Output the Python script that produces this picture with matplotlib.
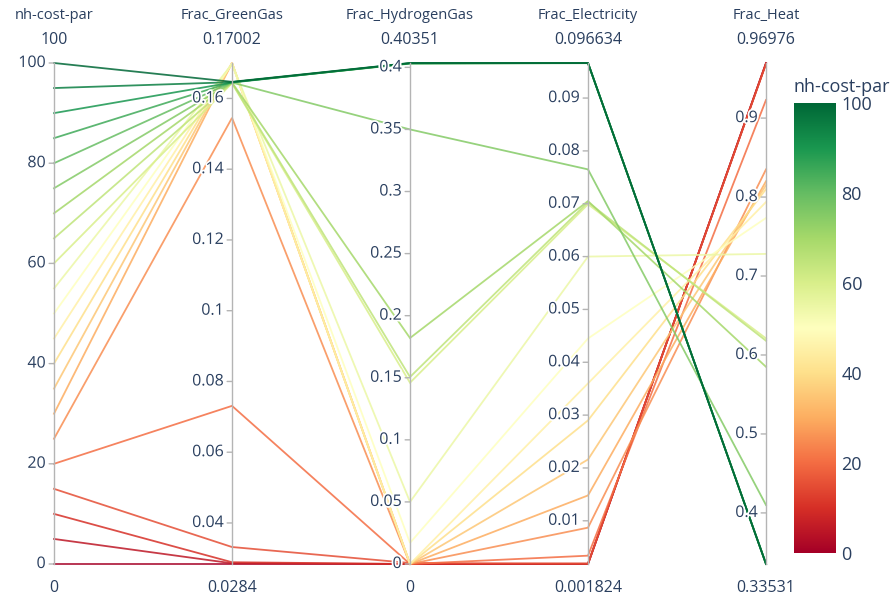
import matplotlib
matplotlib.use("Agg")
import matplotlib.pyplot as plt
import matplotlib.patheffects as pe
import numpy as np

# one row per run, columns are the parallel axes
nh_cost_par = [0, 5, 10, 15, 20, 25, 30, 35, 40, 45, 50,
               55, 60, 65, 70, 75, 80, 85, 90, 95, 100]
frac_green_gas = [0.0284, 0.0286, 0.0289, 0.0332, 0.0731, 0.1545, 0.17002,
                  0.17002, 0.17002, 0.1699, 0.1698, 0.1697, 0.1643, 0.1644,
                  0.1645, 0.1645, 0.1646, 0.1646, 0.1645, 0.1646, 0.1647]
frac_hydrogen_gas = [0.0, 0.0, 0.0, 0.0008, 0.0, 0.0, 0.0, 0.0, 0.0, 0.0,
                     0.017, 0.05, 0.146, 0.1506, 0.182, 0.35,
                     0.4030, 0.4032, 0.4033, 0.4034, 0.40351]
frac_electricity = [0.001824, 0.001824, 0.0019, 0.0019, 0.0034, 0.0087,
                    0.0148, 0.0216, 0.029, 0.036, 0.0445, 0.06, 0.0699,
                    0.0703, 0.0705, 0.0765, 0.0966, 0.09663, 0.096634,
                    0.09663, 0.09662]
frac_heat = [0.96976, 0.9695, 0.969, 0.9685, 0.9229, 0.835, 0.82, 0.815,
             0.81, 0.7937, 0.7735, 0.728, 0.621, 0.618, 0.585, 0.41,
             0.3356, 0.3355, 0.3354, 0.33531, 0.33531]

axis_titles = ["nh-cost-par", "Frac_GreenGas", "Frac_HydrogenGas",
               "Frac_Electricity", "Frac_Heat"]
axis_ticks = [
    [0, 20, 40, 60, 80, 100],
    [0.04, 0.06, 0.08, 0.1, 0.12, 0.14, 0.16],
    [0, 0.05, 0.1, 0.15, 0.2, 0.25, 0.3, 0.35, 0.4],
    [0.01, 0.02, 0.03, 0.04, 0.05, 0.06, 0.07, 0.08, 0.09],
    [0.4, 0.5, 0.6, 0.7, 0.8, 0.9],
]
cbar_ticks = [0, 20, 40, 60, 80, 100]

TEXT = "#2a3f5f"
plt.rcParams["font.family"] = ["Open Sans", "DejaVu Sans"]

columns = [nh_cost_par, frac_green_gas, frac_hydrogen_gas,
           frac_electricity, frac_heat]
data = np.array(columns, dtype=float)
lo = data.min(axis=1)
hi = data.max(axis=1)
norm = (data - lo[:, None]) / (hi - lo)[:, None]

fig = plt.figure(figsize=(8.95, 5.97), dpi=100)
ax = fig.add_axes([54 / 895, 1 - 564 / 597, 712 / 895, 501 / 597])
ax.set_xlim(0, 4)
ax.set_ylim(0, 1)
ax.axis("off")

cmap = plt.cm.RdYlGn
cnorm = plt.Normalize(0, 100)
xs = np.arange(len(columns))
for j in range(data.shape[1]):
    ax.plot(xs, norm[:, j], color=cmap(cnorm(nh_cost_par[j])), lw=1.3,
            alpha=0.85, clip_on=False, zorder=2, solid_joinstyle="miter")

halo = [pe.withStroke(linewidth=2.5, foreground="white")]
for i, title in enumerate(axis_titles):
    ax.plot([i, i], [0, 1], color="#b4b4b4", lw=1.0, zorder=3, clip_on=False)
    ax.annotate(title, (i, 1), xytext=(0, 34.5), textcoords="offset points",
                ha="center", va="center", fontsize=10.5, color=TEXT)
    ax.annotate(f"{hi[i]:.5g}", (i, 1), xytext=(0, 16.5),
                textcoords="offset points", ha="center", va="center",
                fontsize=11.5, color=TEXT)
    ax.annotate(f"{lo[i]:.5g}", (i, 0), xytext=(0, -17),
                textcoords="offset points", ha="center", va="center",
                fontsize=11.5, color=TEXT)
    for t in axis_ticks[i]:
        y = (t - lo[i]) / (hi[i] - lo[i])
        ax.annotate("", (i, y), xytext=(-3.5, 0), textcoords="offset points",
                    arrowprops=dict(arrowstyle="-", color="#b4b4b4", lw=1.0,
                                    shrinkA=0, shrinkB=0))
        ax.annotate(f"{t:g}", (i, y), xytext=(-6, 0),
                    textcoords="offset points", ha="right", va="center",
                    fontsize=11.5, color=TEXT, zorder=4, path_effects=halo)

cax = fig.add_axes([794 / 895, 1 - 553 / 597, 42 / 895, 450 / 597])
grad = np.linspace(0, 100, 256).reshape(-1, 1)
cax.imshow(grad, aspect="auto", cmap=cmap, norm=cnorm, origin="lower",
           extent=[0, 1, 0, 100])
cax.set_xticks([])
cax.yaxis.tick_right()
cax.set_yticks(cbar_ticks)
cax.tick_params(axis="y", length=0, pad=4, labelsize=13, labelcolor=TEXT)
for s in cax.spines.values():
    s.set_visible(False)
cax.text(0, 1.035, "nh-cost-par", transform=cax.transAxes, ha="left",
         va="center", fontsize=13, color=TEXT)

fig.savefig("out.png", dpi=100)
